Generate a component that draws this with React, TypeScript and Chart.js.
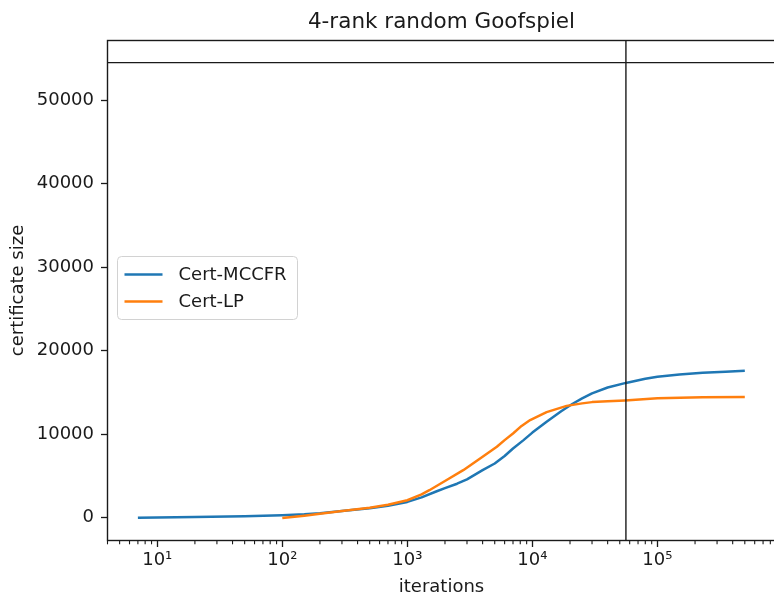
import { useEffect, useRef } from 'react';
import { Chart, registerables } from 'chart.js';

Chart.register(...registerables);

// ---- text ----
const TITLE = '4-rank random Goofspiel';
const X_LABEL = 'iterations';
const Y_LABEL = 'certificate size';
const MCCFR_NAME = 'Cert-MCCFR';
const LP_NAME = 'Cert-LP';

// ---- series: certificate size vs. iterations ----
const mccfrIterations = [
  7, 10, 20, 50, 100, 150, 200, 300, 500, 700, 1000, 1300, 1700, 2000, 2500,
  3000, 4000, 5000, 6000, 7000, 8500, 10000, 13000, 17000, 21000, 25000,
  30000, 40000, 56000, 80000, 100000, 150000, 230000, 350000, 500000,
];
const mccfrSizes = [
  0, 30, 90, 190, 300, 420, 550, 800, 1150, 1450, 1900, 2450, 3150, 3550,
  4080, 4600, 5700, 6500, 7400, 8300, 9300, 10200, 11500, 12750, 13650,
  14300, 14900, 15600, 16150, 16650, 16900, 17150, 17380, 17500, 17600,
];

const lpIterations = [
  100, 150, 200, 300, 500, 700, 1000, 1300, 1500, 2000, 2800, 4000, 5200,
  6000, 7000, 8200, 9600, 13000, 18800, 25000, 30000, 40000, 55000, 100000,
  230000, 500000,
];
const lpSizes = [
  -30, 250, 480, 800, 1200, 1550, 2100, 2800, 3300, 4400, 5700, 7300, 8500,
  9300, 10100, 11000, 11700, 12650, 13400, 13700, 13850, 13950, 14050, 14300,
  14420, 14450,
];

// reference lines
const SIZE_CUTOFF = 54500;
const ITERATION_CUTOFF = 56000;

// ---- axes ----
const X_MIN = 4.0;
const X_MAX = 880000;
const Y_MIN = -2720;
const Y_MAX = 57150;
const xTickValues = [10, 100, 1000, 10000, 100000];
const yTickValues = [0, 10000, 20000, 30000, 40000, 50000];

// ---- style ----
const FONT = '"DejaVu Sans", sans-serif';
const INK = '#1a1a1a';
const MCCFR_COLOR = '#1f77b4';
const LP_COLOR = '#ff7f0e';
const SUPERSCRIPT = '⁰¹²³⁴⁵⁶⁷⁸⁹';

const toPoints = (xs: number[], ys: number[]) => xs.map((x, i) => ({ x, y: ys[i] }));

const decadeLabel = (v: number) => {
  const exp = Math.round(Math.log10(v));
  return '10' + String(exp).split('').map((d) => SUPERSCRIPT[Number(d)]).join('');
};

// axes frame + minor log ticks on the x axis
const framePlugin = {
  id: 'frame',
  afterDatasetsDraw(chart: any) {
    const { ctx, chartArea } = chart;
    const xs = chart.scales.x;
    ctx.save();
    ctx.strokeStyle = INK;
    ctx.lineWidth = 1.1;
    for (let n = 0; n <= 6; n++) {
      for (let k = 2; k <= 9; k++) {
        const v = k * Math.pow(10, n);
        if (v < xs.min || v > xs.max) continue;
        const px = xs.getPixelForValue(v);
        ctx.beginPath();
        ctx.moveTo(px, chartArea.bottom);
        ctx.lineTo(px, chartArea.bottom + 3.8);
        ctx.stroke();
      }
    }
    ctx.lineWidth = 1.4;
    ctx.strokeRect(chartArea.left, chartArea.top, chartArea.right - chartArea.left, chartArea.bottom - chartArea.top);
    ctx.restore();
  },
};

const headerPlugin = {
  id: 'header',
  afterDraw(chart: any) {
    const { ctx, chartArea } = chart;
    ctx.save();
    ctx.font = `21.5px ${FONT}`;
    ctx.fillStyle = INK;
    ctx.textAlign = 'center';
    ctx.textBaseline = 'alphabetic';
    ctx.fillText(TITLE, (chartArea.left + chartArea.right) / 2, 28);
    ctx.restore();
  },
};

const keyPlugin = {
  id: 'seriesKey',
  afterDatasetsDraw(chart: any) {
    const { ctx } = chart;
    const entries = chart.data.datasets.filter((d: any) => d.label === MCCFR_NAME || d.label === LP_NAME)
      .sort((a: any, b: any) => (a.label === MCCFR_NAME ? -1 : 1) - (b.label === MCCFR_NAME ? -1 : 1));
    ctx.save();
    const bx = 117.5, by = 256.5, bw = 180, bh = 63;
    ctx.beginPath();
    ctx.roundRect(bx, by, bw, bh, 4);
    ctx.fillStyle = 'rgba(255,255,255,0.8)';
    ctx.fill();
    ctx.strokeStyle = '#d2d2d2';
    ctx.lineWidth = 1;
    ctx.stroke();
    ctx.font = `18px ${FONT}`;
    ctx.textBaseline = 'middle';
    ctx.textAlign = 'left';
    entries.forEach((d: any, i: number) => {
      const y = by + 18 + i * 27;
      ctx.strokeStyle = d.borderColor;
      ctx.lineWidth = 2.5;
      ctx.beginPath();
      ctx.moveTo(bx + 7, y);
      ctx.lineTo(bx + 45, y);
      ctx.stroke();
      ctx.fillStyle = INK;
      ctx.fillText(d.label, bx + 61, y + 1);
    });
    ctx.restore();
  },
};

export default function App() {
  const ref = useRef<HTMLCanvasElement>(null);

  useEffect(() => {
    const canvas = ref.current!;
    const chart = new Chart(canvas, {
      type: 'line',
      data: {
        datasets: [
          {
            label: 'size cutoff',
            data: [{ x: X_MIN, y: SIZE_CUTOFF }, { x: X_MAX, y: SIZE_CUTOFF }],
            borderColor: INK,
            borderWidth: 1.4,
          },
          {
            label: 'iteration cutoff',
            data: [{ x: ITERATION_CUTOFF, y: Y_MIN }, { x: ITERATION_CUTOFF, y: Y_MAX }],
            borderColor: INK,
            borderWidth: 1.4,
          },
          {
            label: LP_NAME,
            data: toPoints(lpIterations, lpSizes),
            borderColor: LP_COLOR,
            borderWidth: 2.5,
          },
          {
            label: MCCFR_NAME,
            data: toPoints(mccfrIterations, mccfrSizes),
            borderColor: MCCFR_COLOR,
            borderWidth: 2.5,
          },
        ],
      },
      options: {
        animation: false,
        responsive: false,
        devicePixelRatio: 1,
        layout: { padding: { left: 0, top: 40.5, right: 0.5, bottom: 0 } },
        elements: {
          point: { radius: 0, hoverRadius: 0 },
          line: { tension: 0, borderCapStyle: 'butt', borderJoinStyle: 'round', fill: false },
        },
        plugins: {
          legend: { display: false },
          tooltip: { enabled: false },
          title: { display: false },
        },
        scales: {
          x: {
            type: 'logarithmic',
            min: X_MIN,
            max: X_MAX,
            bounds: 'data',
            afterBuildTicks: (s: any) => {
              s.ticks = xTickValues.map((value) => ({ value, major: true }));
            },
            afterFit: (s: any) => {
              s.height = 57.5;
            },
            grid: {
              display: true,
              drawOnChartArea: false,
              drawTicks: true,
              tickLength: 6.5,
              tickColor: INK,
              tickWidth: 1.3,
            },
            border: { display: false },
            ticks: {
              autoSkip: false,
              maxRotation: 0,
              minRotation: 0,
              padding: 3,
              color: INK,
              font: { family: FONT, size: 18 },
              callback: (v: any) => decadeLabel(Number(v)),
            },
            title: {
              display: true,
              text: X_LABEL,
              color: INK,
              font: { family: FONT, size: 18, lineHeight: 1.2 },
              padding: { top: 0, bottom: 0 },
            },
          },
          y: {
            type: 'linear',
            min: Y_MIN,
            max: Y_MAX,
            bounds: 'data',
            afterBuildTicks: (s: any) => {
              s.ticks = yTickValues.map((value) => ({ value }));
            },
            afterFit: (s: any) => {
              s.width = 107.5;
            },
            grid: {
              display: true,
              drawOnChartArea: false,
              drawTicks: true,
              tickLength: 6.5,
              tickColor: INK,
              tickWidth: 1.3,
            },
            border: { display: false },
            ticks: {
              padding: 7,
              color: INK,
              font: { family: FONT, size: 18 },
              callback: (v: any) => String(v),
            },
            title: {
              display: true,
              text: Y_LABEL,
              color: INK,
              font: { family: FONT, size: 18, lineHeight: 1.2 },
              padding: { top: 8, bottom: 0 },
            },
          },
        },
      },
      plugins: [framePlugin, keyPlugin, headerPlugin],
    } as any);
    return () => chart.destroy();
  }, []);

  return (
    <div style={{ position: 'fixed', left: 0, top: 0, width: 776, height: 598, background: '#ffffff' }}>
      <canvas ref={ref} width={776} height={598} style={{ display: 'block' }} />
    </div>
  );
}
